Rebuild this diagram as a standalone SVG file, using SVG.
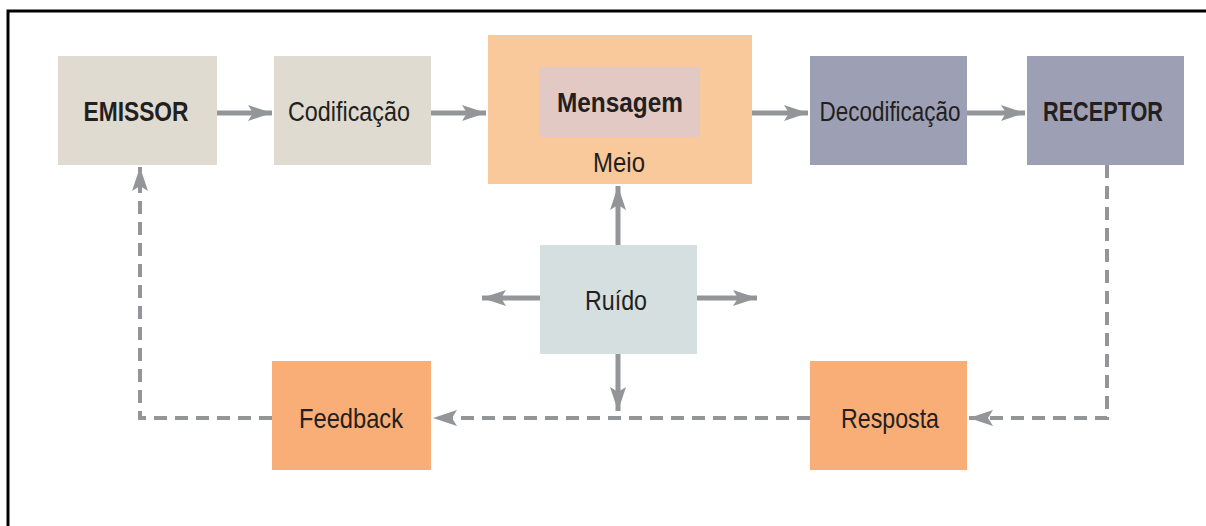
<svg xmlns="http://www.w3.org/2000/svg" width="1206" height="526" viewBox="0 0 1206 526">
<defs>
<style>
.t{font-family:"Liberation Sans",Arial,sans-serif;font-size:28px;fill:#231f20;text-anchor:middle}
.b{font-weight:bold}
.s{stroke:#939598;stroke-width:5;fill:none}
.d{stroke:#939598;stroke-width:4;fill:none;stroke-dasharray:13 8}
</style>
<marker id="ah" viewBox="0 0 24 16" refX="24" refY="8" markerWidth="24" markerHeight="16" markerUnits="userSpaceOnUse" orient="auto">
<path d="M0,0 L24,8 L0,16 L5,8 Z" fill="#939598"/>
</marker>
</defs>
<rect width="1206" height="526" fill="#ffffff"/>
<path d="M8,526 V11 H1206" fill="none" stroke="#000" stroke-width="3"/>
<g id="emissor"><rect x="58" y="56" width="159" height="109" fill="#dfdbd0"/><text class="t b" x="136" y="121" textLength="105" lengthAdjust="spacingAndGlyphs">EMISSOR</text></g>
<g id="codificacao"><rect x="274" y="56" width="157" height="109" fill="#dfdbd0"/><text class="t" x="349" y="121" textLength="122" lengthAdjust="spacingAndGlyphs">Codificação</text></g>
<g id="meio"><rect x="488" y="35" width="264" height="149" fill="#f9c89b"/><text class="t" x="619" y="172" textLength="52" lengthAdjust="spacingAndGlyphs">Meio</text></g>
<g id="mensagem"><rect x="539" y="67" width="161" height="70" fill="#e2c9c4"/><text class="t b" x="620" y="112" textLength="126" lengthAdjust="spacingAndGlyphs">Mensagem</text></g>
<g id="decodificacao"><rect x="810" y="56" width="157" height="109" fill="#9da0b4"/><text class="t" x="890" y="121" textLength="141" lengthAdjust="spacingAndGlyphs">Decodificação</text></g>
<g id="receptor"><rect x="1027" y="56" width="157" height="109" fill="#9da0b4"/><text class="t b" x="1103" y="121" textLength="120" lengthAdjust="spacingAndGlyphs">RECEPTOR</text></g>
<g id="ruido"><rect x="540" y="245" width="157" height="109" fill="#d5dfdf"/><text class="t" x="616" y="310" textLength="62" lengthAdjust="spacingAndGlyphs">Ruído</text></g>
<g id="feedback"><rect x="272" y="361" width="159" height="109" fill="#f8ae76"/><text class="t" x="351" y="428" textLength="104" lengthAdjust="spacingAndGlyphs">Feedback</text></g>
<g id="resposta"><rect x="810" y="361" width="157" height="109" fill="#f8ae76"/><text class="t" x="890" y="428" textLength="98" lengthAdjust="spacingAndGlyphs">Resposta</text></g>
<g id="connectors">
<line class="s" x1="217" y1="113" x2="272" y2="113" marker-end="url(#ah)"/>
<line class="s" x1="431" y1="113" x2="486" y2="113" marker-end="url(#ah)"/>
<line class="s" x1="752" y1="113" x2="808" y2="113" marker-end="url(#ah)"/>
<line class="s" x1="967" y1="113" x2="1025" y2="113" marker-end="url(#ah)"/>
<line class="s" x1="618" y1="245" x2="618" y2="186" marker-end="url(#ah)"/>
<line class="s" x1="540" y1="298" x2="482" y2="298" marker-end="url(#ah)"/>
<line class="s" x1="697" y1="298" x2="757" y2="298" marker-end="url(#ah)"/>
<line class="s" x1="618" y1="354" x2="618" y2="411" marker-end="url(#ah)"/>
<path class="d" d="M1107,165 V418 H969" marker-end="url(#ah)"/>
<path class="d" d="M810,418 H433" marker-end="url(#ah)"/>
<path class="d" d="M272,418 H140 V167" marker-end="url(#ah)"/>
</g>
</svg>
